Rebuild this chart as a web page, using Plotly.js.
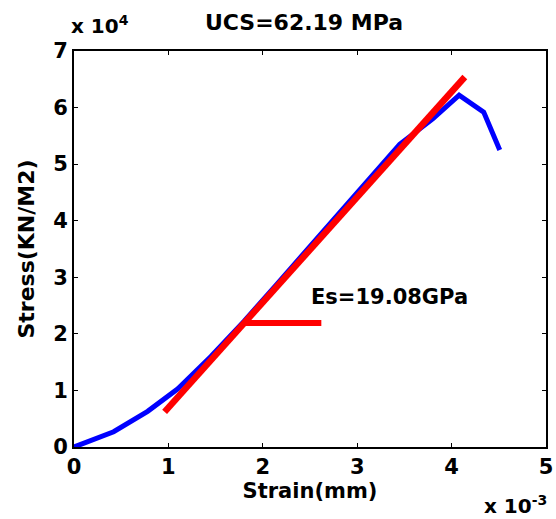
<!DOCTYPE html>
<html>
<head>
<meta charset="utf-8">
<script src="https://cdn.plot.ly/plotly-3.0.1.min.js"></script>
<style>html,body{margin:0;padding:0;background:#fff;}#chart{width:556px;height:519px;}</style>
</head>
<body>
<div id="chart"></div>
<script>
// Strain in units of 1e-3, stress in units of 1e4 KN/M2
const strainCurve = [0, 0.42, 0.78, 1.1, 1.45, 1.8, 2.15, 2.5, 2.85, 3.1, 3.45, 3.8, 4.08, 4.34, 4.51];
const stressCurve = [0, 0.27, 0.63, 1.03, 1.6, 2.22, 2.88, 3.55, 4.2, 4.68, 5.35, 5.8, 6.22, 5.92, 5.25];
const fitStrain = [0.96, 4.14];
const fitStress = [0.62, 6.54];
const markStrain = [1.81, 2.62];
const markStress = [2.19, 2.19];
const xTicks = [0, 1, 2, 3, 4, 5];
const yTicks = [0, 1, 2, 3, 4, 5, 6, 7];
const titleText = 'UCS=62.19 MPa';
const esText = 'Es=19.08GPa';
const xTitle = 'Strain(mm)';
const yTitle = 'Stress(KN/M2)';

const F = '"DejaVu Sans", Arial, sans-serif';
const fnt = (s) => ({family: F, size: s, color: '#000', weight: 'bold'});
const b = (t) => '<b>' + t + '</b>';
const traces = [
  {x: strainCurve, y: stressCurve, mode: 'lines', line: {color: '#0000ff', width: 5}, hoverinfo: 'skip'},
  {x: fitStrain, y: fitStress, mode: 'lines', line: {color: '#ff0000', width: 6.5}, hoverinfo: 'skip'},
  {x: markStrain, y: markStress, mode: 'lines', line: {color: '#ff0000', width: 6}, hoverinfo: 'skip'}
];
const axisCommon = {
  showgrid: false, zeroline: false, showline: true, linecolor: '#000', linewidth: 2,
  mirror: 'ticks', ticks: 'inside', ticklen: 4, tickcolor: '#000', tickwidth: 1,
  tickfont: fnt(21)
};
const layout = {
  width: 556, height: 519,
  margin: {l: 74, r: 10, t: 51, b: 72},
  paper_bgcolor: '#fff', plot_bgcolor: '#fff',
  showlegend: false,
  title: {text: b(titleText), x: 304 / 556, xanchor: 'center', y: 1 - 22 / 519, yanchor: 'middle', font: fnt(22)},
  xaxis: Object.assign({}, axisCommon, {
    range: [0, 5], tickvals: xTicks, ticktext: xTicks.map(v => b(String(v))),
    title: {text: b(xTitle), standoff: 5, font: fnt(21)}
  }),
  yaxis: Object.assign({}, axisCommon, {
    range: [0, 7], tickvals: yTicks, ticktext: yTicks.map(v => b(String(v))),
    title: {text: b(yTitle), standoff: 12, font: fnt(22)}
  }),
  annotations: [
    {text: b('x 10<sup>4</sup>'), xref: 'paper', yref: 'paper', x: -0.01, y: 1.027, xanchor: 'left', yanchor: 'bottom',
     showarrow: false, font: fnt(20)},
    {text: b('x 10<sup>-3</sup>'), xref: 'paper', yref: 'paper', x: 1.006, y: -0.108, xanchor: 'right', yanchor: 'top',
     showarrow: false, font: fnt(20)},
    {text: b(esText), xref: 'x', yref: 'y', x: 2.49, y: 2.65, xanchor: 'left', yanchor: 'middle',
     showarrow: false, font: fnt(21)}
  ]
};
Plotly.newPlot('chart', traces, layout, {staticPlot: true});
</script>
</body>
</html>
